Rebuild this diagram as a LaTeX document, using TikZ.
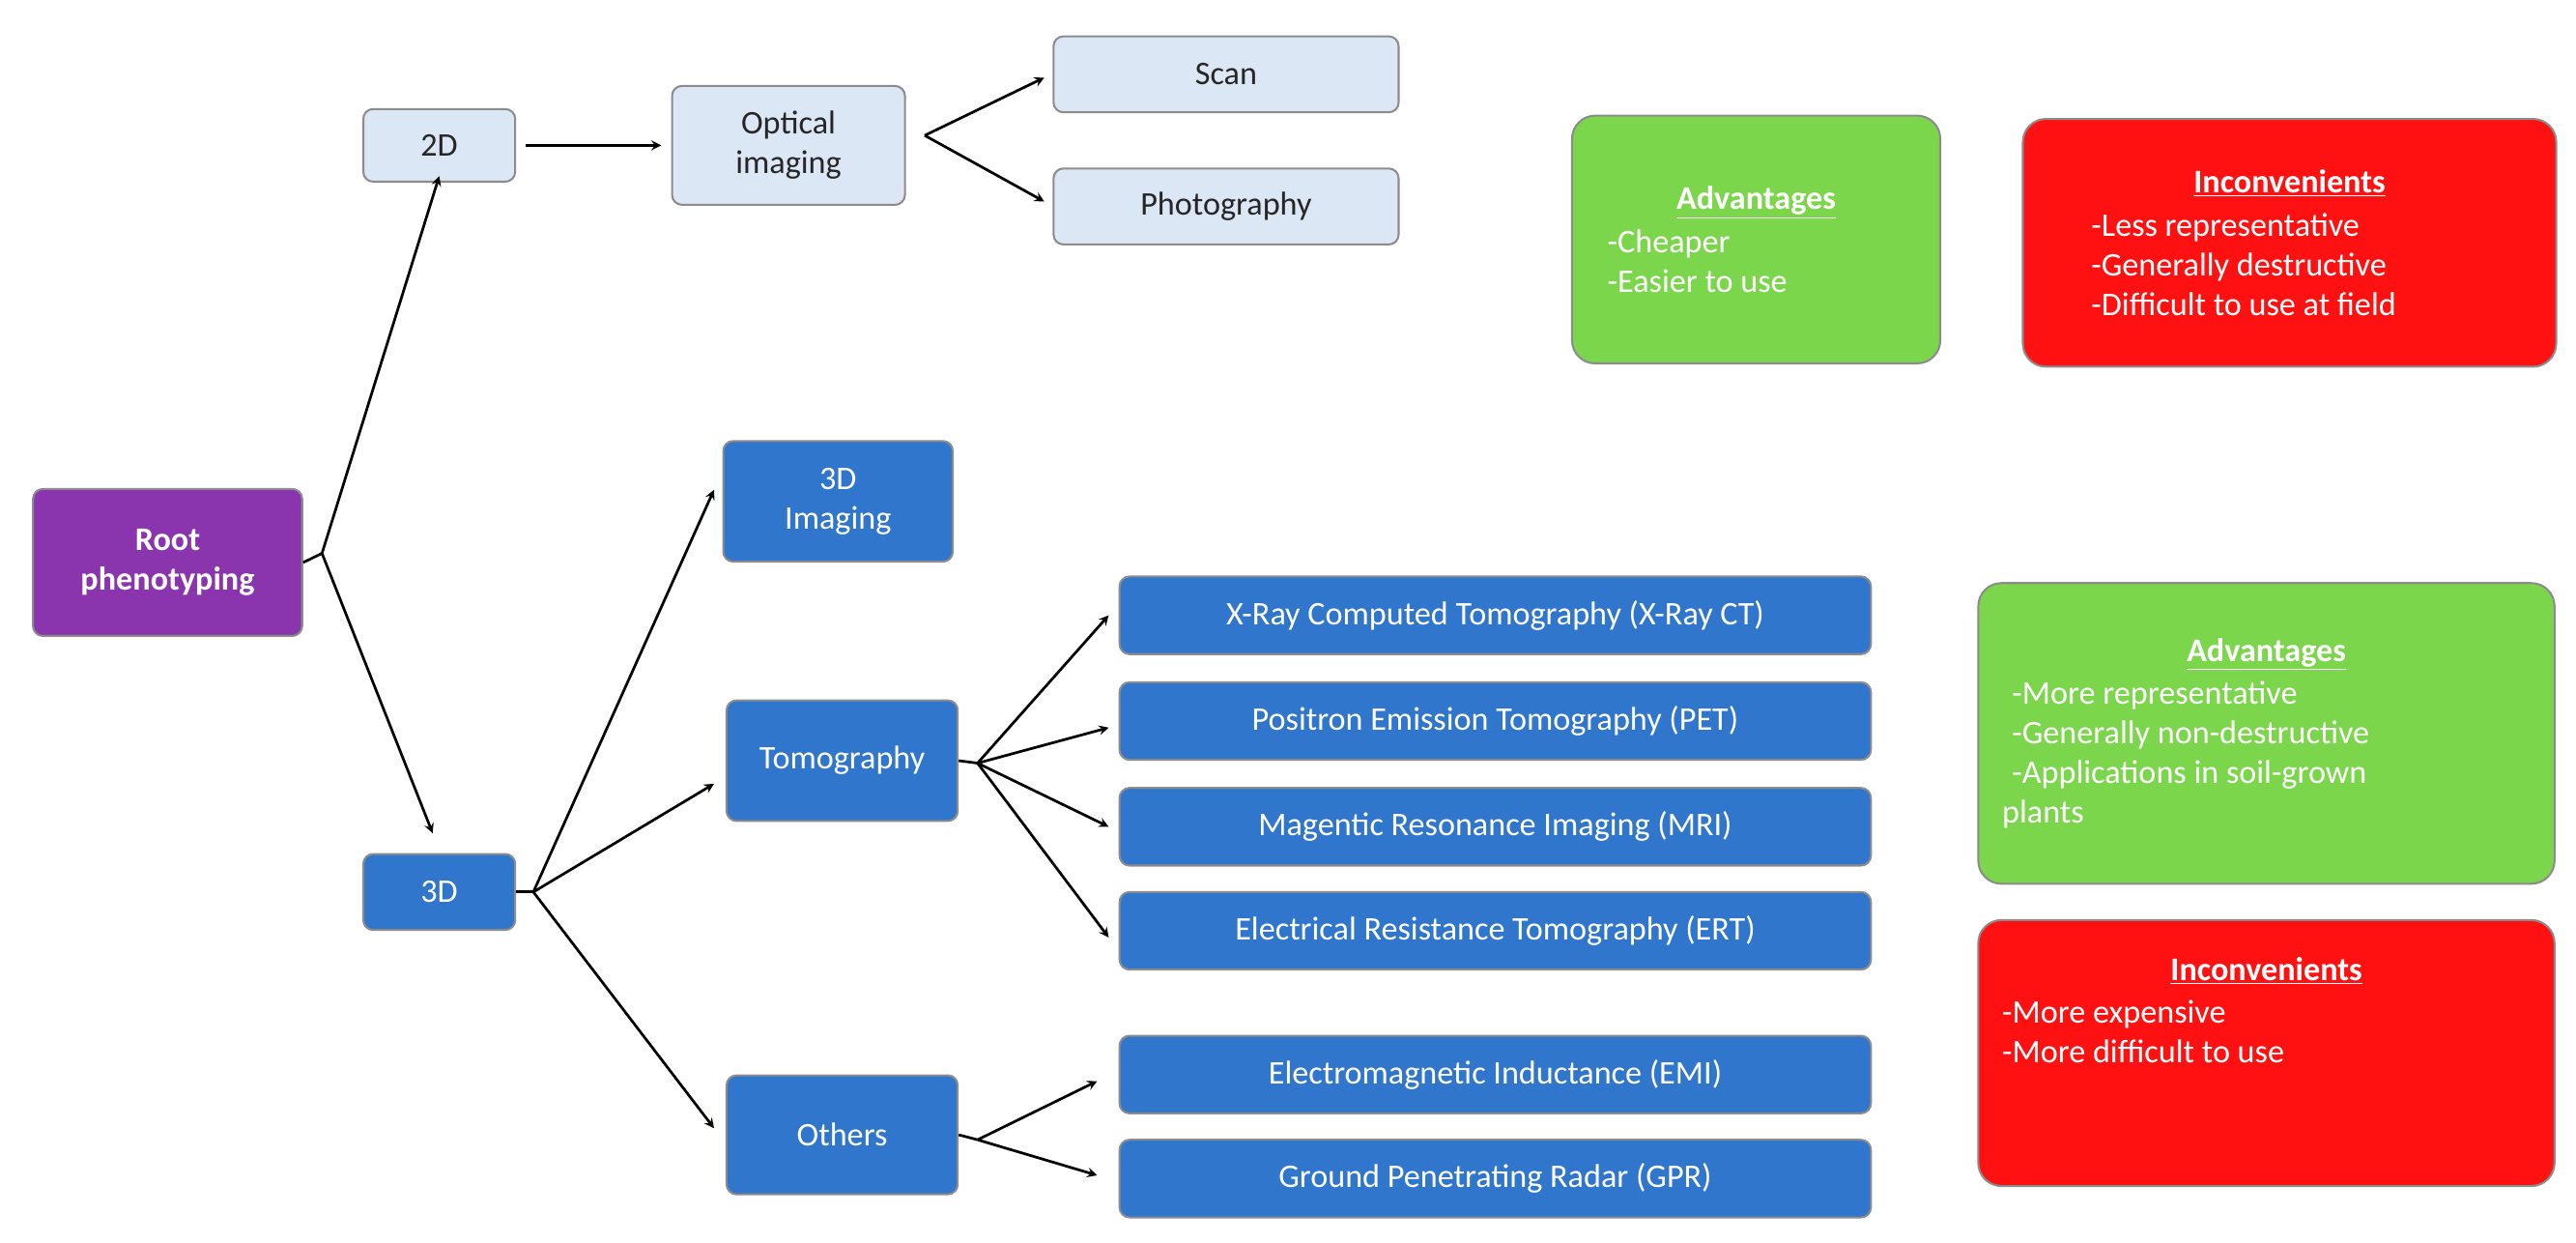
\documentclass[tikz,border=0pt]{standalone}
\usepackage{fontspec}
\setmainfont{Carlito}
\usetikzlibrary{shapes.geometric, arrows, calc, positioning}
\definecolor{rootpurple}{HTML}{8A35AE}
\definecolor{lightbox}{HTML}{DCE7F5}
\definecolor{darkbox}{HTML}{2F76CC}
\definecolor{goodgreen}{HTML}{7CD64C}
\definecolor{badred}{HTML}{FF1111}
\tikzstyle{base} = [rectangle, rounded corners=6pt, draw=black!45, line width=1.2pt, align=center, inner sep=0pt, font=\fontsize{20}{24}\selectfont]
\tikzstyle{light} = [base, fill=lightbox, text=black!85]
\tikzstyle{dark} = [base, fill=darkbox, text=white]
\tikzstyle{root} = [base, fill=rootpurple, text=white, font=\fontsize{20}{24}\selectfont\bfseries]
\tikzstyle{good} = [base, rounded corners=14pt, fill=goodgreen, text=white, align=left]
\tikzstyle{bad} = [base, rounded corners=14pt, fill=badred, text=white, align=left]
\tikzstyle{arrow} = [line width=1.6pt,->,>=stealth]
\tikzstyle{line} = [line width=1.6pt]
\newcommand{\boxat}[6]{\node (#1) [#2, minimum width=#5pt-#3pt, minimum height=#6pt-#4pt] at ({(#3+#5)/2},{(#4+#6)/2})}
\newcommand{\heading}[1]{\makebox[\linewidth][c]{\bfseries\underline{#1}}}

\begin{document}
\begin{tikzpicture}[x=1pt, y=-1pt]
  \useasboundingbox (0,0) rectangle (1560,752);
  \boxat{root}{root}{20}{296}{183}{385} {Root\\phenotyping};
  \boxat{twod}{light}{220}{66}{312}{110} {2D};
  \boxat{optical}{light}{407}{52}{548}{124} {Optical\\imaging};
  \boxat{scan}{light}{638}{22}{847}{68} {Scan};
  \boxat{photo}{light}{638}{102}{847}{148} {Photography};

  \boxat{threed}{dark}{220}{517}{312}{563} {3D};
  \boxat{imaging}{dark}{438}{267}{577}{340} {3D\\Imaging};
  \boxat{tomo}{dark}{440}{424}{580}{497} {Tomography};
  \boxat{others}{dark}{440}{651}{580}{723} {Others};
  \boxat{xct}{dark}{678}{349}{1133}{396} {X-Ray Computed Tomography (X-Ray CT)};
  \boxat{pet}{dark}{678}{413}{1133}{460} {Positron Emission Tomography (PET)};
  \boxat{mri}{dark}{678}{477}{1133}{524} {Magentic Resonance Imaging (MRI)};
  \boxat{ert}{dark}{678}{540}{1133}{587} {Electrical Resistance Tomography (ERT)};
  \boxat{emi}{dark}{678}{627}{1133}{674} {Electromagnetic Inductance (EMI)};
  \boxat{gpr}{dark}{678}{690}{1133}{737} {Ground Penetrating Radar (GPR)};

  \boxat{adv1}{good}{952}{70}{1175}{220} {\begin{minipage}{180pt}\heading{Advantages}\\[2pt]-Cheaper\\-Easier to use\end{minipage}};
  \boxat{inc1}{bad}{1225}{72}{1548}{222} {\begin{minipage}{240pt}\heading{Inconvenients}\\[2pt]-Less representative\\-Generally destructive\\-Difficult to use at field\end{minipage}};
  \boxat{adv2}{good}{1198}{353}{1547}{535} {\begin{minipage}{320pt}\heading{Advantages}\\[2pt]\hspace*{6pt}-More representative\\\hspace*{6pt}-Generally non-destructive\\\hspace*{6pt}-Applications in soil-grown\\plants\end{minipage}};
  \boxat{inc2}{bad}{1198}{557}{1547}{718} {\begin{minipage}{320pt}\heading{Inconvenients}\\[2pt]-More expensive\\-More difficult to use\\[28pt]\end{minipage}};

  % branching points
  \coordinate (rootfork) at (195,335);
  \coordinate (optfork) at (560,82);
  \coordinate (threefork) at (323,540);
  \coordinate (tomofork) at (592,462);
  \coordinate (othfork) at (592,690);

  \draw [line] (root.east) -- (rootfork);
  \draw [arrow] (rootfork) -- ($(twod.south)+(0,-4)$);
  \draw [arrow] (rootfork) -- ($(threed.north)+(-4,-12)$);
  \draw [arrow] (twod.east)+(6,0) -- ($(optical.west)+(-6,0)$);
  \draw [arrow] (optfork) -- ($(scan.west)+(-5,2)$);
  \draw [arrow] (optfork) -- ($(photo.west)+(-5,-3)$);
  \draw [line] (threed.east) -- (threefork);
  \draw [arrow] (threefork) -- ($(imaging.west)+(-5,-7)$);
  \draw [arrow] (threefork) -- ($(tomo.west)+(-7,14)$);
  \draw [arrow] (threefork) -- ($(others.west)+(-7,-4)$);
  \draw [line] (tomo.east) -- (tomofork);
  \draw [arrow] (tomofork) -- ($(xct.west)+(-6,0)$);
  \draw [arrow] (tomofork) -- ($(pet.west)+(-6,4)$);
  \draw [arrow] (tomofork) -- ($(mri.west)+(-6,0)$);
  \draw [arrow] (tomofork) -- ($(ert.west)+(-6,4)$);
  \draw [line] (others.east) -- (othfork);
  \draw [arrow] (othfork) -- ($(emi.west)+(-13,4)$);
  \draw [arrow] (othfork) -- ($(gpr.west)+(-13,-2)$);
\end{tikzpicture}
\end{document}
